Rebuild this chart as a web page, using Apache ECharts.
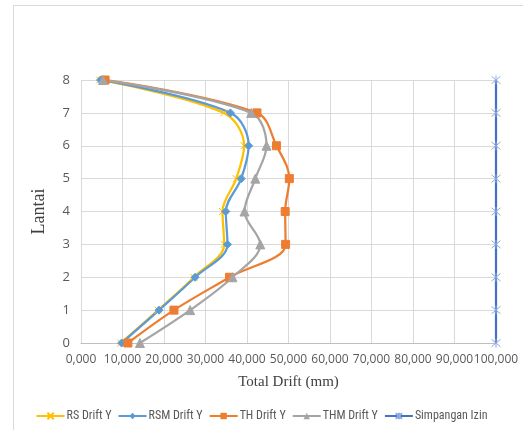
<!DOCTYPE html>
<html>
<head>
<meta charset="utf-8">
<script src="https://cdn.jsdelivr.net/npm/echarts@6/dist/echarts.min.js"></script>
<style>
  html, body { margin: 0; padding: 0; background: #fff; }
  #chart { width: 523px; height: 430px; }
</style>
</head>
<body>
<div id="chart"></div>
<script>
// Floor levels (Lantai)
const floors = [0, 1, 2, 3, 4, 5, 6, 7, 8];

// Total drift per floor (mm)
const rsDrift  = [9.6, 18.6, 27.2, 34.5, 34.1, 37.4, 39.3, 34.4, 4.5];
const rsmDrift = [9.8, 18.8, 27.5, 35.3, 34.9, 38.6, 40.4, 36.0, 4.7];
const thDrift  = [11.3, 22.4, 35.8, 49.3, 49.2, 50.2, 47.1, 42.4, 5.8];
const thmDrift = [14.2, 26.3, 36.5, 43.2, 39.4, 42.0, 44.7, 41.0, 5.3];
const izinDrift = [100, 100, 100, 100, 100, 100, 100, 100, 100];

const seriesNames = ['RS Drift Y', 'RSM Drift Y', 'TH Drift Y', 'THM Drift Y', 'Simpangan Izin'];

const pairs = (vals) => vals.map((v, i) => [v, floors[i]]);

const crossPath = 'path://M0,0L10,10M10,0L0,10';
const starPath = 'path://M0,0L10,10M10,0L0,10M5,-1L5,11';

const chart = echarts.init(document.getElementById('chart'), null, { renderer: 'canvas' });

const lineSeries = (name, vals, color, symbol, size, markerStyle, smooth) => ({
  name: name,
  type: 'line',
  data: pairs(vals),
  smooth: smooth,
  symbol: symbol,
  symbolSize: size,
  showSymbol: true,
  lineStyle: { color: color, width: 2.25 },
  itemStyle: markerStyle,
  emphasis: { disabled: true },
  z: 3
});

chart.setOption({
  animation: false,
  backgroundColor: '#ffffff',
  graphic: [{
    type: 'rect',
    shape: { x: 13.5, y: 5.5, width: 600, height: 500 },
    style: { fill: 'none', stroke: '#d9d9d9', lineWidth: 1 },
    silent: true
  }],
  grid: { left: 81, right: 27, top: 80, bottom: 87 },
  xAxis: {
    type: 'value',
    min: 0, max: 100, interval: 10,
    name: 'Total Drift (mm)',
    nameLocation: 'middle',
    nameGap: 32,
    nameTextStyle: { fontFamily: 'Liberation Serif', fontSize: 15, color: '#404040' },
    axisLine: { show: true, lineStyle: { color: '#bfbfbf', width: 1 } },
    axisTick: { show: false },
    axisLabel: {
      color: '#595959', fontSize: 12, fontFamily: 'Open Sans, Liberation Sans', margin: 11,
      formatter: (v) => v.toFixed(3).replace('.', ',')
    },
    splitLine: { show: true, lineStyle: { color: '#d9d9d9', width: 1 } }
  },
  yAxis: {
    type: 'value',
    min: 0, max: 8, interval: 1,
    name: 'Lantai',
    nameLocation: 'middle',
    nameGap: 33,
    nameRotate: 90,
    nameTextStyle: { fontFamily: 'Liberation Serif', fontSize: 18, color: '#404040' },
    axisLine: { show: false },
    axisTick: { show: false },
    axisLabel: { color: '#595959', fontSize: 13, fontFamily: 'Open Sans, Liberation Sans', margin: 11 },
    splitLine: { show: true, lineStyle: { color: '#d9d9d9', width: 1 } }
  },
  legend: {
    bottom: 3,
    left: 'center',
    itemWidth: 28,
    itemHeight: 8,
    itemGap: 6,
    textStyle: {
      fontSize: 12, color: '#595959',
      fontFamily: 'Liberation Sans Narrow, Roboto Condensed, Liberation Sans',
      padding: [0, 0, 0, -3]
    },
    data: seriesNames
  },
  series: [
    lineSeries(seriesNames[0], rsDrift, '#ffc000', crossPath, 7,
      { color: 'rgba(0,0,0,0)', borderColor: '#ffc000', borderWidth: 1 }, 0.35),
    lineSeries(seriesNames[1], rsmDrift, '#5b9bd5', 'diamond', 8,
      { color: '#5b9bd5', borderColor: '#5b9bd5' }, 0.35),
    lineSeries(seriesNames[2], thDrift, '#ed7d31', 'rect', 8,
      { color: '#ed7d31', borderColor: '#ed7d31' }, 0.35),
    lineSeries(seriesNames[3], thmDrift, '#a5a5a5', 'triangle', 9,
      { color: '#a5a5a5', borderColor: '#a5a5a5' }, 0.35),
    lineSeries(seriesNames[4], izinDrift, '#4472c4', starPath, 9,
      { color: 'rgba(0,0,0,0)', borderColor: '#8fa9e0', borderWidth: 1 }, false)
  ]
});
</script>
</body>
</html>
